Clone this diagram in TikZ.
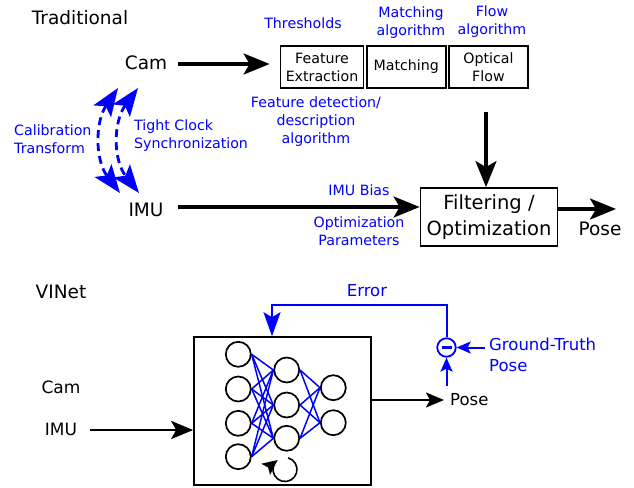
\documentclass[tikz,border=0pt]{standalone}
\usepackage{fontspec}
\setmainfont{DejaVu Sans}
\usetikzlibrary{arrows.meta}
\begin{document}
\begin{tikzpicture}[x=1pt,y=-1pt,
  lbl/.style={font=\fontsize{18.5}{21}\selectfont, inner sep=0},
  lbls/.style={font=\fontsize{17}{20}\selectfont, inner sep=0},
  blu/.style={text=blue, font=\fontsize{14.2}{18}\selectfont, align=center, inner sep=0},
  blus/.style={text=blue, font=\fontsize{16.5}{21}\selectfont, inner sep=0},
  stagebox/.style={draw, line width=1.8, font=\fontsize{14.2}{18}\selectfont, align=center, minimum height=42, inner sep=0},
  arr/.style={line width=3.2, -{Stealth[length=26pt,width=21pt,inset=6pt]}},
  arrb/.style={line width=2.8, -{Stealth[length=22pt,width=18pt,inset=5pt]}},
  arrs/.style={line width=2, -{Stealth[length=18pt,width=15pt,inset=4pt]}},
  bluarr/.style={blue, line width=2, -{Stealth[length=14pt,width=12pt,inset=3pt]}},
  dsh/.style={blue, line width=2.8, dash pattern=on 8pt off 5pt,
     {Stealth[length=28pt,width=21pt,inset=6pt]}-{Stealth[length=28pt,width=21pt,inset=6pt]}},
  neuron/.style={circle, draw, line width=1.7, minimum size=25, inner sep=0},
  link/.style={blue, line width=1.5}]
\useasboundingbox (0,0) rectangle (634,487);

% ---------------- Traditional ----------------
\node[lbl] (trad) at (80,18) {Traditional};
\node[lbl] (cam) at (146,63) {Cam};
\node[lbl] (imu) at (146,210) {IMU};

\node[stagebox, minimum width=83] (fe) at (322,67) {Feature\\Extraction};
\node[stagebox, minimum width=79] (mt) at (406.2,67) {Matching};
\node[stagebox, minimum width=79] (of) at (488.4,67) {Optical\\Flow};

\node[blu] (thr) at (303,23) {Thresholds};
\node[blu] (malg) at (411,23) {Matching\\algorithm};
\node[blu] (falg) at (492,22) {Flow\\algorithm};
\node[blu] (fdd) at (316,122) {Feature detection/\\description\\algorithm};

\node[draw, line width=1.8, font=\fontsize{19.5}{26}\selectfont, align=center,
      minimum width=137, minimum height=58, inner sep=0] (flt) at (489,217) {Filtering /\\Optimization};
\node[lbl] (pose) at (600,229) {Pose};

\node[blu] (bias) at (359,190) {IMU Bias};
\node[blu] (optp) at (359,231) {Optimization\\Parameters};
\node[blu, anchor=west, align=left] (calib) at (14,139) {Calibration\\Transform};
\node[blu, anchor=west, align=left] (sync) at (134,136) {Tight Clock\\Synchronization};

\coordinate (camout) at (178,64);
\draw[arr] (camout) -- ([xshift=-10pt]camout -| fe.west);
\coordinate (dtop) at (486,112);
\draw[arr] (dtop) -- (dtop |- flt.north);
\coordinate (imuout) at (178,207);
\draw[arr] (imuout) -- (imuout -| flt.west);
\coordinate (poseout) at (616,209);
\draw[arr] (poseout -| flt.east) -- (poseout);

\coordinate (d1a) at (118,88);
\coordinate (d1b) at (120,193);
\coordinate (d2a) at (138,88);
\coordinate (d2b) at (139,193);
\draw[dsh] (d1a) .. controls (95,122) and (95,160) .. (d1b);
\draw[dsh] (d2a) .. controls (113,122) and (113,160) .. (d2b);

% ---------------- VINet ----------------
\node[lbl] (vinet) at (61,292) {VINet};
\node[lbls] (cam2) at (61,387) {Cam};
\node[lbls] (imu2) at (61,429) {IMU};

\node[draw, line width=1.6, minimum width=177, minimum height=148, inner sep=0] (nn) at (282.5,411) {};
\coordinate (imu2out) at (90,430);
\draw[arrb] (imu2out) -- (imu2out -| nn.west);

\node[neuron] (a1) at (238.3,354.3) {};
\node[neuron] (a2) at (238.3,389) {};
\node[neuron] (a3) at (238.3,423.3) {};
\node[neuron] (a4) at (238.3,456.7) {};
\node[neuron] (b1) at (286.7,370) {};
\node[neuron] (b2) at (286.7,405) {};
\node[neuron] (b3) at (286.7,438.3) {};
\node[neuron] (c1) at (333.3,387.7) {};
\node[neuron] (c2) at (333.3,422.7) {};
\foreach \i in {1,...,4}{\foreach \j in {1,2,3}{\draw[link] (a\i.east) -- (b\j.west);}}
\foreach \i in {1,2,3}{\foreach \j in {1,2}{\draw[link] (b\i.east) -- (c\j.west);}}

\coordinate (rc) at (285,469.5);
\draw[line width=1.6, -{Stealth[length=15pt,width=14pt,inset=3pt]}]
  ([shift={(-75:12)}]rc) arc[start angle=-75, end angle=232, radius=12];

\node[inner sep=0, anchor=west, font=\fontsize{16.5}{20}\selectfont] (pose2) at (450,400) {Pose};
\draw[arrs] (nn.east |- pose2.west) -- ([xshift=-6pt]pose2.west);

\node[circle, draw=blue, line width=1.8, minimum size=18.5, inner sep=0] (sub) at (446.5,347.5) {};
\draw[blue, line width=2.8] ([xshift=-5pt]sub.center) -- ([xshift=5pt]sub.center);

\coordinate (fb) at (272,305);
\draw[blue, line width=2, -{Stealth[length=24pt,width=17pt,inset=5pt]}]
  (sub.north) |- (fb) -- (fb |- nn.north);
\node[blus] (err) at (367,291) {Error};

\node[blus, anchor=west, align=left] (gt) at (489,354.5) {Ground-Truth\\Pose};
\draw[bluarr] ([xshift=-4pt]gt.west |- sub.east) -- (sub.east);
\coordinate (pv) at (446.5,386);
\draw[bluarr] (pv) -- (sub.south);
\end{tikzpicture}
\end{document}
